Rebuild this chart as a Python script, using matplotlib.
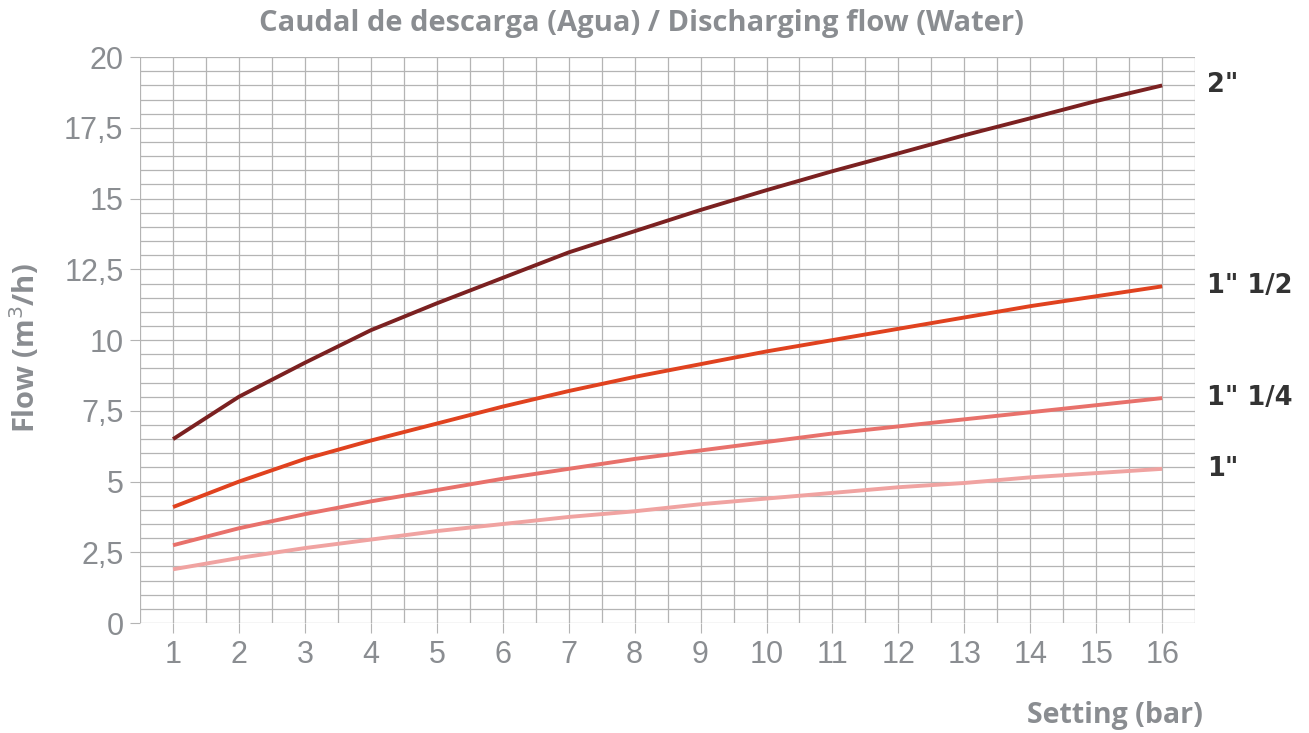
import numpy as np
import matplotlib.pyplot as plt
from matplotlib.ticker import MultipleLocator, FuncFormatter

# data
setting = np.arange(1, 17)
flow_2 = [6.5, 8.0, 9.2, 10.35, 11.3, 12.2, 13.1, 13.85, 14.6, 15.3, 15.97, 16.6, 17.24, 17.84, 18.45, 19.0]
flow_1_12 = [4.1, 5.0, 5.8, 6.45, 7.05, 7.65, 8.2, 8.7, 9.15, 9.6, 10.0, 10.4, 10.8, 11.2, 11.55, 11.9]
flow_1_14 = [2.75, 3.35, 3.85, 4.3, 4.7, 5.1, 5.45, 5.8, 6.1, 6.4, 6.7, 6.95, 7.2, 7.45, 7.7, 7.95]
flow_1 = [1.9, 2.3, 2.65, 2.95, 3.25, 3.5, 3.75, 3.95, 4.2, 4.4, 4.6, 4.8, 4.95, 5.15, 5.3, 5.45]

series = [
    ('2"', flow_2, '#7b2121'),
    ('1" 1/2', flow_1_12, '#e0421f'),
    ('1" 1/4', flow_1_14, '#e8716b'),
    ('1"', flow_1, '#f0a3a1'),
]

grey = '#8a8d91'

fig = plt.figure(figsize=(13.09, 7.33), dpi=100)
ax = fig.add_axes([0.107, 0.150, 0.806, 0.772])

for name, vals, col in series:
    ax.plot(setting, vals, color=col, lw=2.8, solid_capstyle='butt', zorder=3)
    ax.text(16.5 + 0.18, vals[-1], name, color='#333333', fontsize=18.5,
            fontweight='bold', family='DejaVu Sans', va='center', ha='left',
            clip_on=False)

ax.set_xlim(0.5, 16.5)
ax.set_ylim(0, 20)
ax.xaxis.set_major_locator(MultipleLocator(1))
ax.xaxis.set_minor_locator(MultipleLocator(0.5))
ax.yaxis.set_major_locator(MultipleLocator(2.5))
ax.yaxis.set_minor_locator(MultipleLocator(0.5))
ax.yaxis.set_major_formatter(FuncFormatter(lambda v, p: ('%g' % v).replace('.', ',')))

ax.grid(which='both', color='#b4b4b4', lw=0.9)
ax.set_axisbelow(True)
for s in ax.spines.values():
    s.set_visible(False)
ax.tick_params(which='major', length=7, color='#b4b4b4', labelcolor=grey,
               labelsize=22, pad=5)
ax.tick_params(which='minor', length=0)
for lab in ax.get_xticklabels() + ax.get_yticklabels():
    lab.set_family('Liberation Sans')

fig.text(0.49, 0.968, 'Caudal de descarga (Agua) / Discharging flow (Water)',
         ha='center', va='center', fontsize=21, fontweight='bold',
         color=grey, family='Open Sans')
fig.text(0.019, 0.525, 'Flow (m$^3$/h)', rotation=90, ha='center', va='center',
         fontsize=21, fontweight='bold', color=grey, family='Open Sans')
fig.text(0.919, 0.024, 'Setting (bar)', ha='right', va='center', fontsize=20.5,
         fontweight='bold', color=grey, family='Open Sans')

fig.savefig('out.png', dpi=100)
